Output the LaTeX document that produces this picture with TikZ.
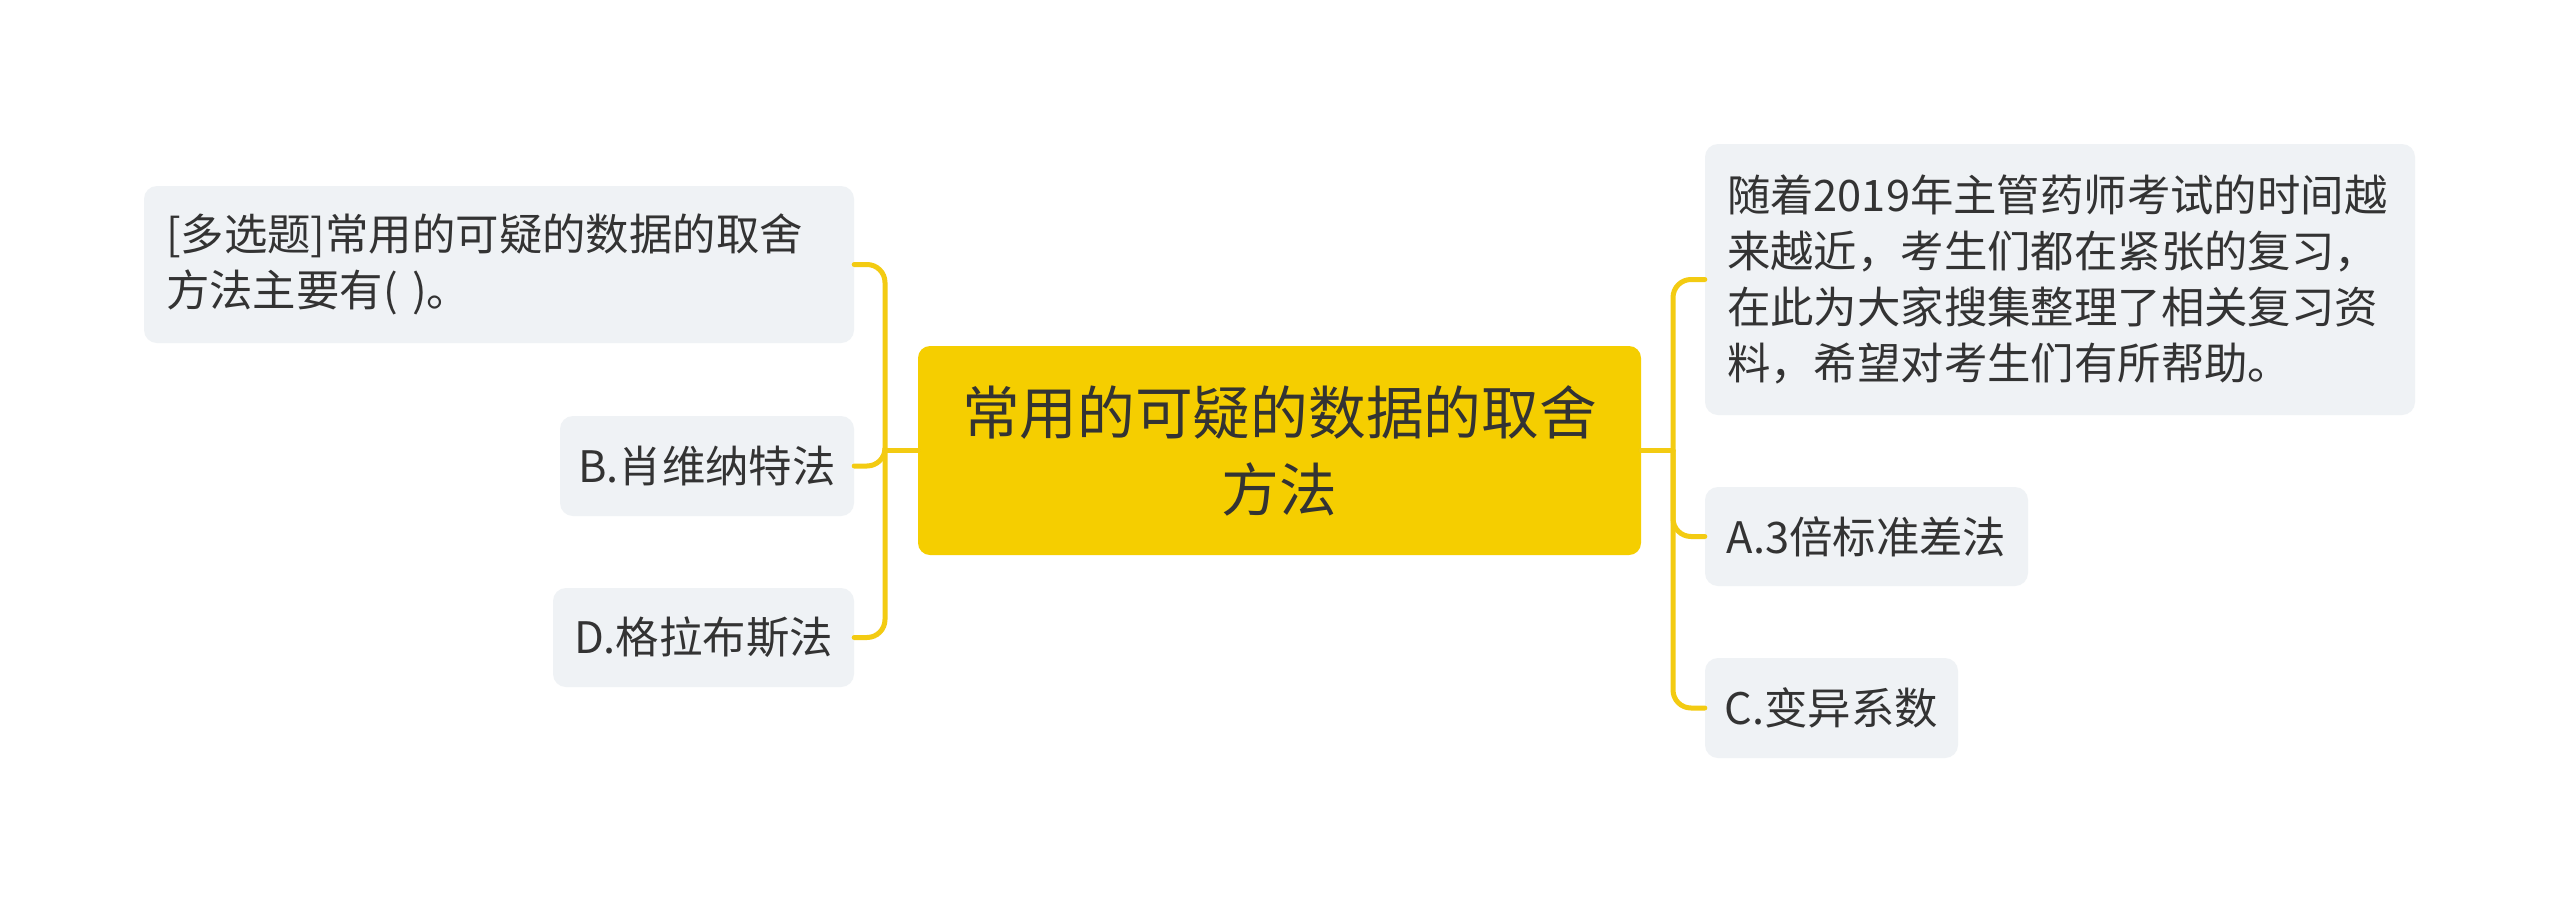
\documentclass[tikz,border=0pt]{standalone}
\usepackage{fontspec}
\newfontfamily\cjk{Noto Sans CJK SC}
\definecolor{mainfill}{HTML}{F5CE00}
\definecolor{subfill}{HTML}{EFF2F5}
\definecolor{linecol}{HTML}{F3CB12}
\definecolor{txt}{HTML}{333333}
\begin{document}
\begin{tikzpicture}[x=1pt,y=-1pt,
  mainbox/.style={fill=mainfill, rounded corners=12pt, inner sep=0pt, text=txt, align=center,
    font=\cjk\fontsize{57.7}{77}\selectfont},
  subbox/.style={fill=subfill, rounded corners=13pt, inner sep=0pt, text=txt,
    font=\cjk\fontsize{43.4}{56}\selectfont},
  conn/.style={draw=linecol, line width=5pt, rounded corners=18pt, line cap=round}
]
\useasboundingbox (0,0) rectangle (2560,903);
\fill[white] (0,0) rectangle (2560,903);

\node[mainbox, minimum width=723pt, minimum height=209pt] (c) at (1279.5,450.5)
  {常用的可疑的数据的取舍\\方法};

\node[subbox, minimum width=710pt, minimum height=157pt, text width=666pt, align=left] (lt) at (499,264.5)
  {[多选题]常用的可疑的数据的取舍\\方法主要有( )。};
\node[subbox, minimum width=294pt, minimum height=100pt, align=center] (b) at (707,466) {B.肖维纳特法};
\node[subbox, minimum width=301pt, minimum height=99pt, align=center] (d) at (703.5,637.5) {D.格拉布斯法};

\node[subbox, minimum width=710pt, minimum height=271pt, text width=666pt, align=left] (rt) at (2060,279.5)
  {随着2019年主管药师考试的时间越\\来越近，考生们都在紧张的复习，\\在此为大家搜集整理了相关复习资\\料，希望对考生们有所帮助。};
\node[subbox, minimum width=323pt, minimum height=99pt, align=center] (a) at (1866.5,536.5) {A.3倍标准差法};
\node[subbox, minimum width=253pt, minimum height=100pt, align=center] (cc) at (1831.5,708) {C.变异系数};

\coordinate (jl) at (885,450.5);
\coordinate (jr) at (1673,450.5);

\draw[conn] (c.west) -- (jl);
\draw[conn] (jl) |- (lt.east);
\draw[conn] (jl) |- (b.east);
\draw[conn] (jl) |- (d.east);

\draw[conn] (c.east) -- (jr);
\draw[conn] (jr) |- (rt.west);
\draw[conn] (jr) |- (a.west);
\draw[conn] (jr) |- (cc.west);
\end{tikzpicture}
\end{document}
